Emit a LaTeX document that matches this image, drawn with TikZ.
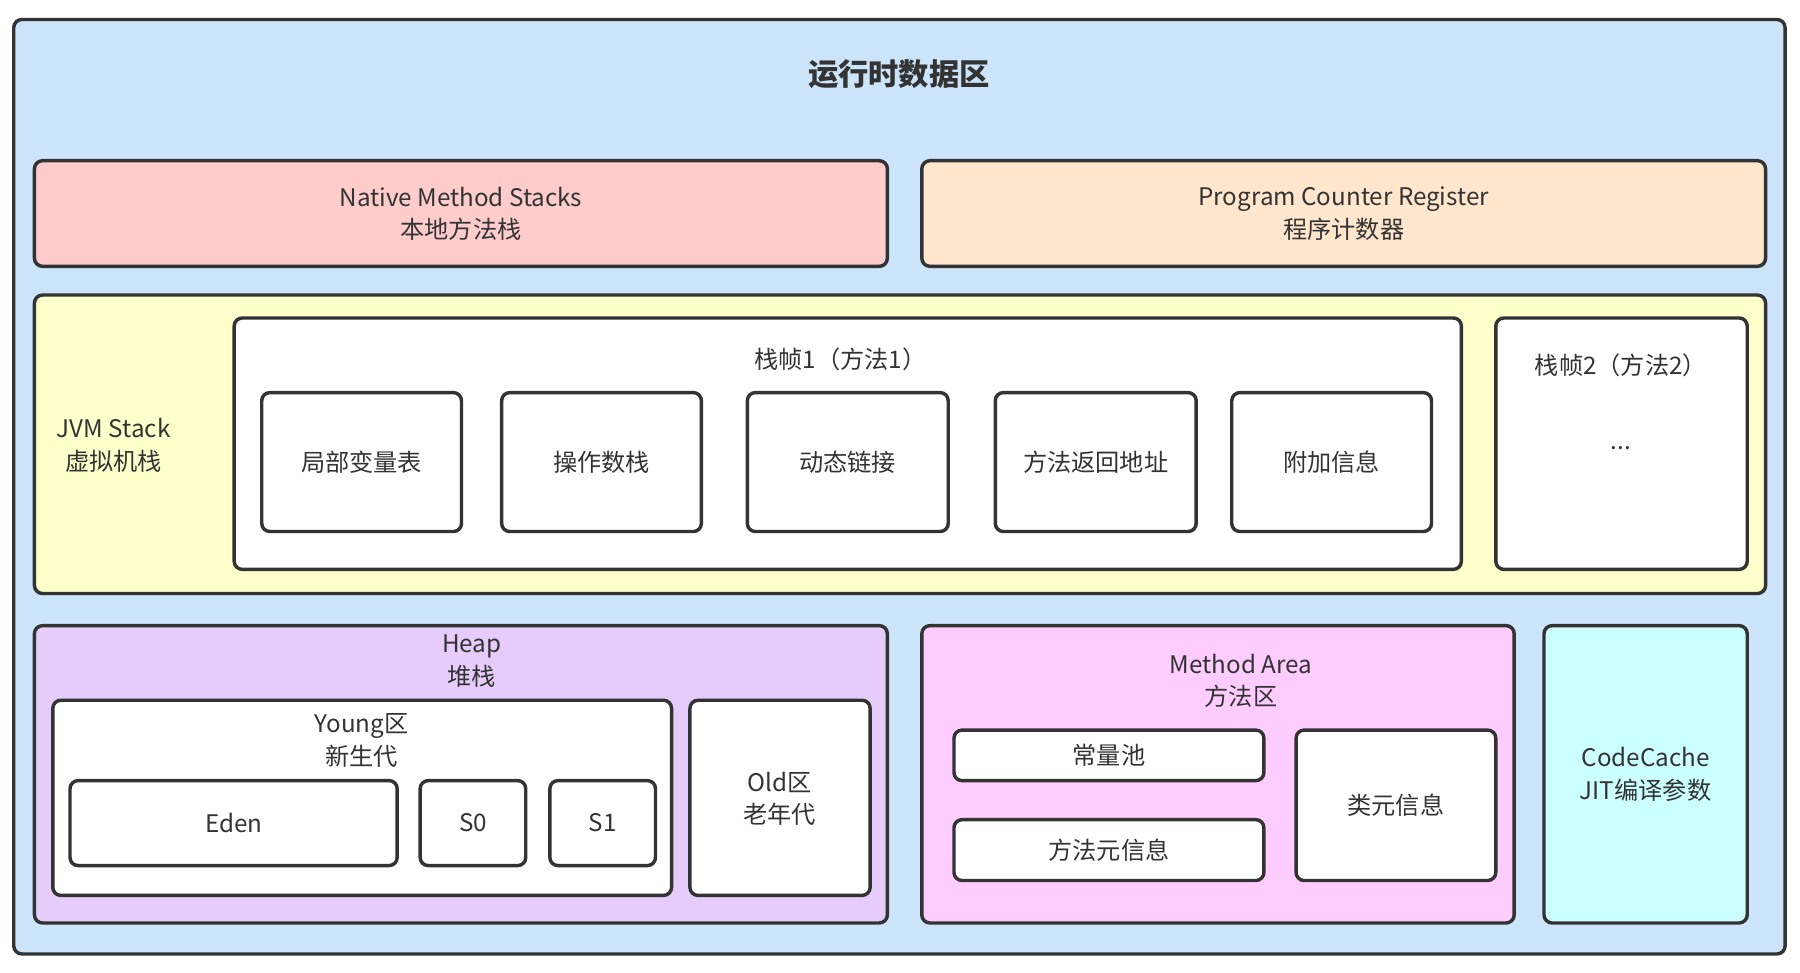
\documentclass[tikz,border=0pt]{standalone}
\usepackage{fontspec}
\setmainfont{Noto Sans CJK SC}
\usetikzlibrary{fit}

\definecolor{areablue}{HTML}{CCE5FB}
\definecolor{nativepink}{HTML}{FFCCCC}
\definecolor{pcorange}{HTML}{FFE6CC}
\definecolor{stackyellow}{HTML}{FFFFCC}
\definecolor{heappurple}{HTML}{E5CCFB}
\definecolor{methodpink}{HTML}{FFCCFF}
\definecolor{cachecyan}{HTML}{CCFFFF}
\definecolor{edgegray}{HTML}{333333}

\tikzset{
  box/.style={draw=edgegray, line width=1.7pt, rounded corners=4pt, inner sep=0pt},
  lbl/.style={align=center, text=edgegray, inner sep=0pt, font=\fontsize{12}{16}\selectfont},
  txt/.style={label={[lbl]center:{#1}}}
}

\begin{document}
\begin{tikzpicture}[x=0.2mm, y=-0.2mm]
		%%%%% START %%%%%
		\useasboundingbox (0,0) rectangle (1568,847);
		
		\node[box, fill=areablue, fit={(12,17) (1555,831)}] (runtime) {};
		\node[lbl, font=\fontsize{15}{18}\selectfont\bfseries] (runtimelbl) at (783,65) {运行时数据区};
		
		\node[box, fill=nativepink, fit={(30,140) (773,232)}, txt={Native Method Stacks\\本地方法栈}] (native) {};
		\node[box, fill=pcorange, fit={(803,140) (1538,232)}, txt={Program Counter Register\\程序计数器}] (pc) {};
		
		% JVM Stack
		\node[box, fill=stackyellow, fit={(30,257) (1538,517)}] (jvmstack) {};
		\node[lbl] (jvmlbl) at (99,388) {JVM Stack\\虚拟机栈};
		
		\node[box, fill=white, fit={(204,277) (1273,496)}] (frame1) {};
		\node[lbl] (frame1lbl) at (732,313) {栈帧1（方法1）};
		\node[box, fill=white, fit={(228,342) (402,463)}, txt=局部变量表] (locals) {};
		\node[box, fill=white, fit={(437,342) (611,463)}, txt=操作数栈] (operand) {};
		\node[box, fill=white, fit={(651,342) (826,463)}, txt=动态链接] (dynlink) {};
		\node[box, fill=white, fit={(867,342) (1042,463)}, txt=方法返回地址] (retaddr) {};
		\node[box, fill=white, fit={(1073,342) (1247,463)}, txt=附加信息] (extra) {};
		
		\node[box, fill=white, fit={(1303,277) (1522,496)}] (frame2) {};
		\node[lbl] (frame2lbl) at (1412,318) {栈帧2（方法2）};
		\node[lbl] (frame2dots) at (1412,390) {...};
		
		% Heap
		\node[box, fill=heappurple, fit={(30,545) (773,804)}] (heap) {};
		\node[lbl] (heaplbl) at (411,576) {Heap\\堆栈};
		\node[box, fill=white, fit={(46,610) (585,780)}] (young) {};
		\node[lbl] (younglbl) at (315,645) {Young区\\新生代};
		\node[box, fill=white, fit={(61,680) (346,754)}, txt=Eden] (eden) {};
		\node[box, fill=white, fit={(366,680) (458,754)}, txt=S0] (s0) {};
		\node[box, fill=white, fit={(479,680) (571,754)}, txt=S1] (s1) {};
		\node[box, fill=white, fit={(601,610) (758,780)}] (old) {};
		\node[lbl] (oldlbl) at (679,696) {Old区\\老年代};
		
		% Method Area
		\node[box, fill=methodpink, fit={(803,545) (1319,804)}] (method) {};
		\node[lbl] (methodlbl) at (1081,593) {Method Area\\方法区};
		\node[box, fill=white, fit={(831,636) (1101,680)}, txt=常量池] (constpool) {};
		\node[box, fill=white, fit={(831,714) (1101,767)}, txt=方法元信息] (methodmeta) {};
		\node[box, fill=white, fit={(1129,636) (1303,767)}, txt=类元信息] (classmeta) {};
		
		\node[box, fill=cachecyan, fit={(1345,545) (1522,804)}, txt={CodeCache\\JIT编译参数}] (codecache) {};
		
		%%%%% END %%%%%
\end{tikzpicture}
\end{document}
